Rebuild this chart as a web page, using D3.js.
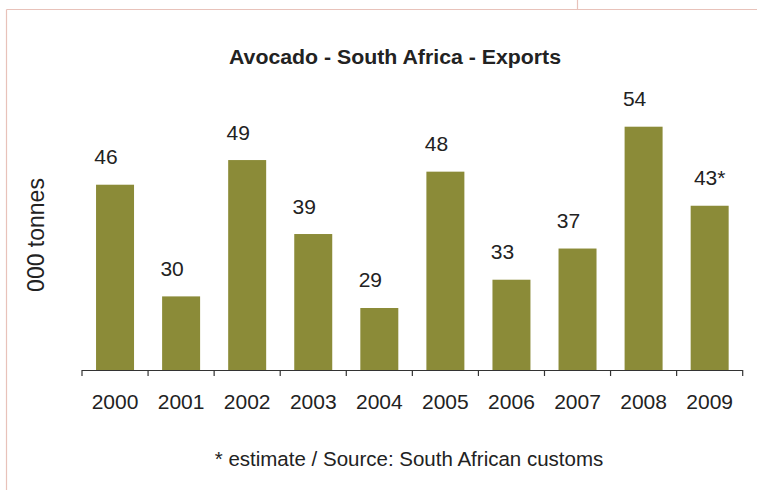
<!DOCTYPE html>
<html><head><meta charset="utf-8">
<script src="https://cdn.jsdelivr.net/npm/d3@7"></script>
<style>
html,body{margin:0;padding:0;background:#fff;}
svg{display:block;}
text{font-family:"Liberation Sans",Arial,sans-serif;fill:#222;}
</style></head>
<body>
<script>
const categories = ["2000","2001","2002","2003","2004","2005","2006","2007","2008","2009"];
const values = [46, 30.6, 49.4, 39.2, 29, 47.8, 32.9, 37.2, 54, 43.1];
const valueLabels = ["46","30","49","39","29","48","33","37","54","43*"];
const title = "Avocado - South Africa - Exports";
const yTitle = "000 tonnes";
const footnote = "* estimate / Source: South African customs";
const yDomain = [20.45, 54];

const W = 757, H = 490;
const svg = d3.select("body").append("svg").attr("width", W).attr("height", H);

// frame lines
const frame = svg.append("g").attr("stroke", "#e8c2ba").attr("stroke-width", 1.2).attr("fill", "none");
frame.append("line").attr("x1", 6.5).attr("y1", 9.5).attr("x2", W).attr("y2", 9.5);
frame.append("line").attr("x1", 6.5).attr("y1", 9.5).attr("x2", 6.5).attr("y2", H);
frame.append("line").attr("x1", 577.5).attr("y1", 0).attr("x2", 577.5).attr("y2", 9.5);

const x = d3.scaleBand().domain(categories).range([82, 742.7]).paddingInner(0.425).paddingOuter(0.2125);
const y = d3.scaleLinear().domain(yDomain).range([370, 126.7]);

svg.append("text").attr("x", 395).attr("y", 64).attr("text-anchor", "middle")
  .style("font-size", "20px").style("font-weight", "bold")
  .attr("textLength", 332).attr("lengthAdjust", "spacingAndGlyphs").text(title);

svg.append("g").selectAll("rect").data(values).join("rect")
  .attr("x", (d, i) => x(categories[i]))
  .attr("width", x.bandwidth())
  .attr("y", d => y(d))
  .attr("height", d => y(yDomain[0]) - y(d))
  .attr("fill", "#8b8b38");

svg.append("g").selectAll("text").data(values).join("text")
  .attr("x", (d, i) => x(categories[i]) + x.bandwidth() / 2 + (valueLabels[i].includes("*") ? 0 : -9))
  .attr("y", d => y(d) - 20.5)
  .attr("text-anchor", "middle")
  .style("font-size", "21px")
  .text((d, i) => valueLabels[i]);

// x axis
const axisG = svg.append("g").attr("transform", "translate(0,370)");
axisG.append("line").attr("x1", 82).attr("x2", 742.7).attr("y1", 0.5).attr("y2", 0.5)
  .attr("stroke", "#333").attr("stroke-width", 1.2);
const bounds = categories.map(c => x(c) - x.step() * x.paddingInner() / 2).concat([x.range()[1]]);
bounds[0] = x.range()[0];
axisG.selectAll(".tk").data(bounds).join("line").attr("class", "tk")
  .attr("x1", d => d).attr("x2", d => d).attr("y1", 0).attr("y2", 6)
  .attr("stroke", "#333").attr("stroke-width", 1.2);
axisG.selectAll(".lb").data(categories).join("text").attr("class", "lb")
  .attr("x", d => x(d) + x.bandwidth() / 2).attr("y", 38.5)
  .attr("text-anchor", "middle").style("font-size", "21px").text(d => d);

svg.append("text").attr("transform", "translate(44,235) rotate(-90)")
  .attr("text-anchor", "middle").style("font-size", "23px").text(yTitle);

svg.append("text").attr("x", 409).attr("y", 466).attr("text-anchor", "middle")
  .style("font-size", "20.5px").text(footnote);
</script>
</body></html>
